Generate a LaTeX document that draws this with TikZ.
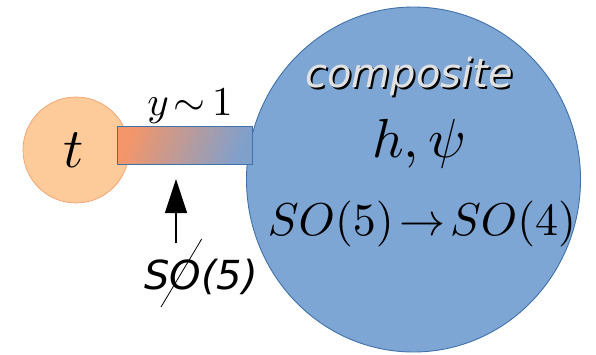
\documentclass[tikz,border=0pt]{standalone}
\usepackage{graphicx}
\usepackage{fontspec}
\usetikzlibrary{shapes.geometric,arrows.meta}
\newfontfamily\handfont{DejaVu Sans}
\definecolor{peach}{RGB}{253,203,153}
\definecolor{peachedge}{RGB}{244,160,110}
\definecolor{bigblue}{RGB}{126,166,212}
\definecolor{blueedge}{RGB}{65,113,170}
\definecolor{rectorange}{RGB}{243,150,105}
\definecolor{rectblue}{RGB}{128,160,204}
\definecolor{shadowgray}{RGB}{225,225,225}
\tikzset{
  mathlbl/.style={inner sep=0pt, anchor=base, text=black},
  handlbl/.style={inner sep=0pt, anchor=base},
}
\newcommand{\shadowtext}[1]{\makebox[0pt][l]{\hspace{2pt}\raisebox{-2pt}{\color{black}#1}}{\color{shadowgray}#1}}
\begin{document}
\begin{tikzpicture}[x=1pt,y=-1pt]
\useasboundingbox (0,0) rectangle (596,354);
% big composite circle
\node[draw=blueedge, fill=bigblue, line width=0.9pt, ellipse, minimum width=334pt, minimum height=345pt, inner sep=0pt] (big) at (413.5,179.5) {};
% top-quark circle
\node[draw=peachedge, fill=peach, line width=0.7pt, circle, minimum size=106pt, inner sep=0pt] (top) at (76,150) {};
% link rectangle
\node[draw=blueedge, line width=0.7pt, rectangle, minimum width=135pt, minimum height=38pt, inner sep=0pt,
  left color=rectorange, right color=rectblue, shading angle=70] (link) at (184.5,145) {};
% labels
\node[mathlbl] (tl) at (74,167) {\scalebox{5.6}{$t$}};
\node[mathlbl] (yl) at (190,115) {\scalebox{4.1}{$y\mkern2mu{\sim}\mkern3mu1$}};
\node[mathlbl] (hl) at (419,157) {\scalebox{5.5}{$h,\psi$}};
\node[mathlbl] (sl) at (422,235) {\scalebox{4.6}{$SO(5)\!\rightarrow\! SO(4)$}};
% composite with shadow
\node[handlbl, font=\handfont\itshape\fontsize{40}{44}\selectfont] (comp) at (409,87) {\shadowtext{composite}};
% arrow and broken symmetry label
\coordinate (abot) at (176,243);
\coordinate (atop) at (176,179);
\draw[line width=1.2pt, -{Triangle[width=22pt,length=34pt]}] (abot) -- (atop);
\node[handlbl, font=\handfont\itshape\fontsize{40}{44}\selectfont] (so5) at (201,289) {SO(5)};
\coordinate (sa) at (201.7,239);
\coordinate (sb) at (161,307);
\draw[line width=0.8pt] (sa) -- (sb);
\end{tikzpicture}
\end{document}
